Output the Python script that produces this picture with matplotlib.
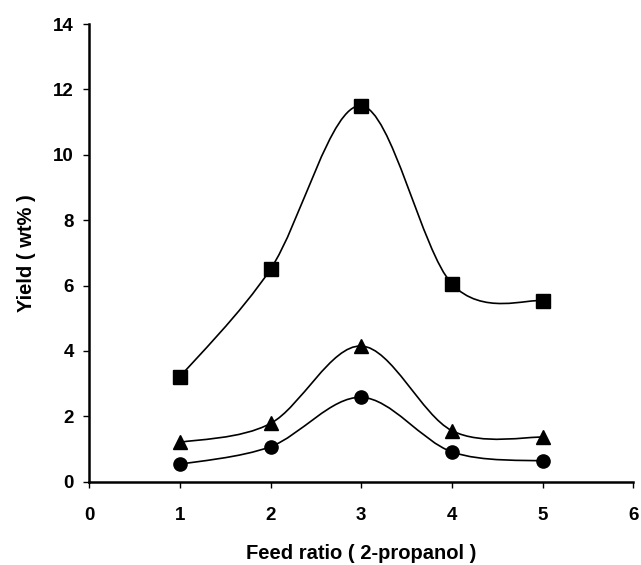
import matplotlib
matplotlib.use("Agg")
import matplotlib.pyplot as plt
from matplotlib.path import Path
from matplotlib.patches import PathPatch
import numpy as np

plt.rcParams['font.family'] = ['Liberation Sans', 'DejaVu Sans']

feed_ratio = [1, 2, 3, 4, 5]
yield_square = [3.2, 6.5, 11.5, 6.05, 5.53]
yield_triangle = [1.2, 1.78, 4.15, 1.56, 1.36]
yield_circle = [0.53, 1.07, 2.58, 0.91, 0.63]

x_ticks = [0, 1, 2, 3, 4, 5, 6]
y_ticks = [0, 2, 4, 6, 8, 10, 12, 14]


def smooth_path(x, y):
    # excel style smoothed line: cubic bezier with catmull-rom tangents
    pts = np.column_stack([x, y]).astype(float)
    n = len(pts)
    verts = [pts[0]]
    codes = [Path.MOVETO]
    for i in range(n - 1):
        p0 = pts[i - 1] if i > 0 else pts[i]
        p1 = pts[i]
        p2 = pts[i + 1]
        p3 = pts[i + 2] if i + 2 < n else pts[i + 1]
        c1 = p1 + (p2 - p0) / 6.0
        c2 = p2 - (p3 - p1) / 6.0
        verts += [c1, c2, p2]
        codes += [Path.CURVE4] * 3
    return Path(verts, codes)


fig = plt.figure(figsize=(6.41, 5.65), dpi=100)
ax = fig.add_axes([0.139, 0.1475, 0.849, 0.81])

for ys, marker, ms in [(yield_square, 's', 9.5),
                       (yield_triangle, '^', 9.5),
                       (yield_circle, 'o', 9.5)]:
    ax.add_patch(PathPatch(smooth_path(feed_ratio, ys), fill=False,
                           edgecolor='black', lw=1.2))
    ax.plot(feed_ratio, ys, linestyle='none', marker=marker, ms=ms,
            color='black', zorder=3, clip_on=False)

ax.set_xlim(0, 6)
ax.set_ylim(0, 14)
ax.set_xticks(x_ticks)
ax.set_yticks(y_ticks)
ax.tick_params(direction='out', length=4, width=1, labelsize=13.5)
ax.tick_params(axis='x', pad=14)
ax.tick_params(axis='y', pad=7)
for lab in ax.get_xticklabels() + ax.get_yticklabels():
    lab.set_fontweight('bold')

for side in ['top', 'right']:
    ax.spines[side].set_visible(False)
ax.spines['left'].set_linewidth(1.8)
ax.spines['bottom'].set_linewidth(1.8)

ax.set_xlabel('Feed ratio ( 2-propanol )', fontsize=14.5, fontweight='bold', labelpad=15)
ax.set_ylabel('Yield ( wt% )', fontsize=14.5, fontweight='bold', labelpad=12)

fig.savefig('out.png', dpi=100)
